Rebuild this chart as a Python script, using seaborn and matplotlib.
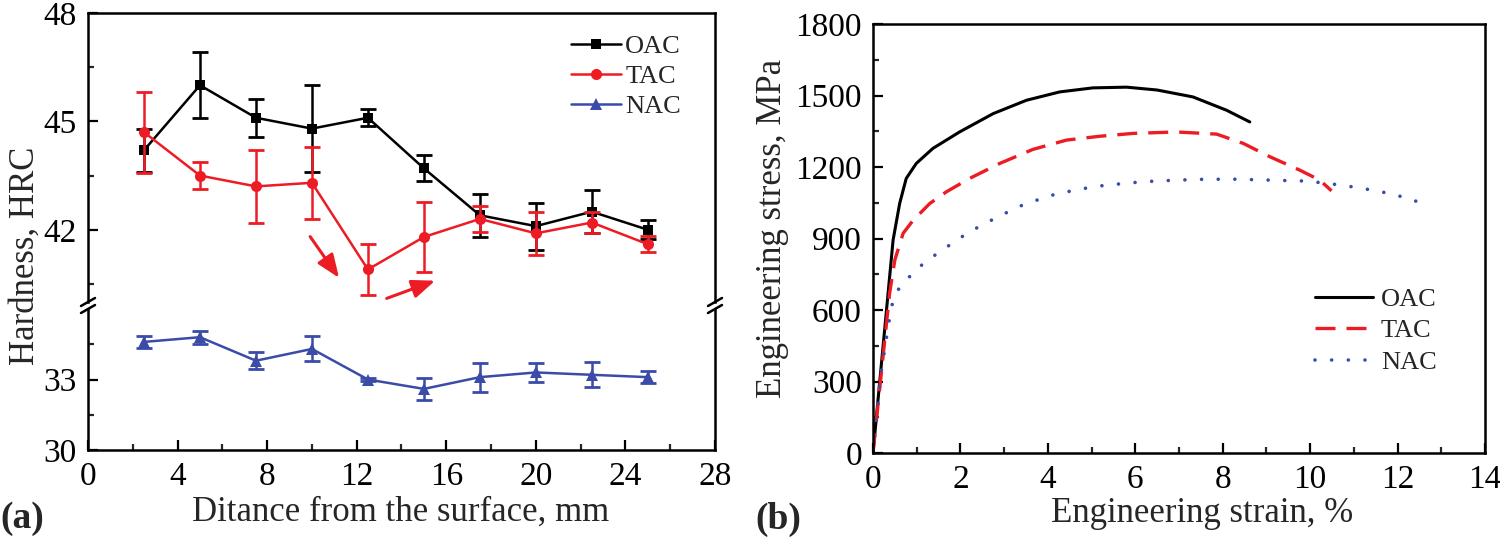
import matplotlib
matplotlib.use('Agg')
import matplotlib.pyplot as plt
from matplotlib.ticker import MultipleLocator, FixedLocator
from matplotlib.lines import Line2D
import seaborn as sns

# (a) hardness vs distance from the surface
depth = [2.5, 5, 7.5, 10, 12.5, 15, 17.5, 20, 22.5, 25]
oac_hrc = [44.2, 46.0, 45.1, 44.8, 45.1, 43.7, 42.4, 42.1, 42.5, 42.0]
oac_err = [0.6, 0.92, 0.52, 1.2, 0.23, 0.36, 0.6, 0.65, 0.6, 0.26]
tac_hrc = [44.7, 43.5, 43.2, 43.3, 40.9, 41.8, 42.3, 41.9, 42.2, 41.6]
tac_err = [1.12, 0.38, 1.0, 1.0, 0.7, 0.98, 0.36, 0.6, 0.3, 0.22]
nac_hrc = [34.6, 34.8, 33.8, 34.3, 33.0, 32.6, 33.1, 33.3, 33.2, 33.1]
nac_err = [0.24, 0.27, 0.37, 0.53, 0.08, 0.46, 0.62, 0.41, 0.53, 0.26]

# (b) engineering stress-strain curves
oac_strain = [0, 0.46, 0.61, 0.7, 0.76, 0.99, 1.37, 1.98, 2.75, 3.51, 4.27, 5.03, 5.8, 6.5, 7.32, 8.09, 8.62]
oac_stress = [0, 894, 1047, 1110, 1152, 1215, 1278, 1347, 1424, 1480, 1515, 1532, 1535, 1523, 1494, 1438, 1389]
tac_strain = [0, 0.38, 0.5, 0.69, 0.92, 1.3, 1.68, 2.21, 2.9, 3.66, 4.43, 5.19, 5.95, 6.94, 7.86, 8.47, 9.08, 9.76, 10.22, 10.49]
tac_stress = [0, 670, 810, 922, 977, 1047, 1096, 1152, 1215, 1274, 1313, 1329, 1341, 1347, 1338, 1299, 1243, 1187, 1145, 1100]
nac_strain = [0, 0.17, 0.42, 0.57, 0.82, 1.14, 1.49, 1.83, 2.17, 2.56, 2.94, 3.32, 3.7, 4.1, 4.52, 4.92,
              5.34, 5.76, 6.16, 6.58, 7.4, 8.24, 9.08, 9.92, 10.72, 11.56, 12.36, 12.66]
nac_stress = [0, 321, 614, 684, 737, 793, 840, 882, 924, 963, 998, 1033, 1058, 1082, 1099, 1113,
              1124, 1131, 1138, 1142, 1148, 1149, 1145, 1141, 1124, 1099, 1064, 1026]

BLACK = '#000000'
RED = '#ed1c24'
BLUE = '#3b4ba8'

sns.set_style('ticks')
plt.rcParams['font.family'] = ['Liberation Serif', 'DejaVu Serif']
plt.rcParams['axes.linewidth'] = 1.8

fig = plt.figure(figsize=(15, 5.41), dpi=100)

W, H = 1500, 541
def box(x0, y0, x1, y1):
    # pixel box (top-left origin) -> figure fraction rect
    return [x0 / W, 1 - y1 / H, (x1 - x0) / W, (y1 - y0) / H]

ax_top = fig.add_axes(box(88, 13, 715, 302))
ax_bot = fig.add_axes(box(88, 309, 715, 450))
ax_b = fig.add_axes(box(873, 24, 1485, 453))

tick_kw = dict(direction='in', labelsize=24, width=1.6, pad=8, colors='black')


def style_axis(ax):
    ax.tick_params(which='major', length=7, **tick_kw)
    ax.tick_params(which='minor', length=4, direction='in', width=1.6)
    ax.tick_params(top=False, right=False, which='both')
    for s in ax.spines.values():
        s.set_linewidth(1.8)
        s.set_color('black')


# ---- panel (a) ----
for ax in (ax_top, ax_bot):
    ax.set_xlim(0, 28)
    ax.xaxis.set_major_locator(MultipleLocator(4))
    ax.xaxis.set_minor_locator(MultipleLocator(2))
    style_axis(ax)

ax_top.set_ylim(40, 48)
ax_top.yaxis.set_major_locator(FixedLocator([42, 45, 48]))
ax_top.yaxis.set_minor_locator(FixedLocator([40.5, 43.5, 46.5]))
ax_top.spines['bottom'].set_visible(False)
ax_top.tick_params(axis='x', which='both', bottom=False, labelbottom=False)

ax_bot.set_ylim(30, 36)
ax_bot.yaxis.set_major_locator(FixedLocator([30, 33]))
ax_bot.yaxis.set_minor_locator(FixedLocator([31.5, 34.5]))
ax_bot.spines['top'].set_visible(False)

series = [
    (ax_top, oac_hrc, oac_err, BLACK, 's', 7),
    (ax_top, tac_hrc, tac_err, RED, 'o', 8),
    (ax_bot, nac_hrc, nac_err, BLUE, '^', 8),
]
for ax, vals, err, col, mk, ms in series:
    sns.lineplot(x=depth, y=vals, ax=ax, color=col, linewidth=1.8, marker=mk,
                 markersize=ms, markeredgewidth=0, sort=False)
    ax.errorbar(depth, vals, yerr=err, fmt='none', ecolor=col, elinewidth=1.8,
                capsize=5.5, capthick=2.0)

ax_top.set_xlabel('')
ax_bot.set_xlabel('')

# red trend arrows
arrow_kw = dict(arrowstyle='-|>,head_length=1.0,head_width=0.4', color=RED, lw=2.2,
                shrinkA=0, shrinkB=0, mutation_scale=14)
ax_top.annotate('', xy=(11.21, 40.67), xytext=(9.92, 41.81), arrowprops=arrow_kw,
                annotation_clip=False)
ax_top.annotate('', xy=(15.5, 40.59), xytext=(13.34, 40.1), arrowprops=arrow_kw,
                annotation_clip=False)

# axis break marks
for xp in (88, 715):
    for yp in (306, 313):
        fig.add_artist(Line2D([(xp - 7) / W, (xp + 7) / W],
                              [1 - yp / H, 1 - (yp - 8) / H],
                              color='black', lw=1.8, transform=fig.transFigure))

handles_a = [
    Line2D([], [], color=BLACK, lw=1.8, marker='s', markersize=7, markeredgewidth=0),
    Line2D([], [], color=RED, lw=1.8, marker='o', markersize=8, markeredgewidth=0),
    Line2D([], [], color=BLUE, lw=1.8, marker='^', markersize=8, markeredgewidth=0),
]
ax_top.legend(handles_a, ['OAC', 'TAC', 'NAC'], loc='upper right',
              bbox_to_anchor=(0.975, 0.99), frameon=False, fontsize=19,
              handlelength=1.9, handletextpad=0.15, labelspacing=0.25, borderpad=0.2)

# ---- panel (b) ----
sns.lineplot(x=oac_strain, y=oac_stress, ax=ax_b, color=BLACK, linewidth=2.2,
             sort=False, label='OAC')
sns.lineplot(x=tac_strain, y=tac_stress, ax=ax_b, color=RED, linewidth=2.4,
             sort=False, label='TAC', dashes=(6, 3.3))
sns.lineplot(x=nac_strain, y=nac_stress, ax=ax_b, color=BLUE, linewidth=2.6,
             sort=False, label='NAC')
nac_line = ax_b.get_lines()[2]
nac_line.set_linestyle((0, (0.01, 4.6)))
nac_line.set_dash_capstyle('round')

ax_b.set_xlim(0, 14)
ax_b.set_ylim(0, 1800)
ax_b.xaxis.set_major_locator(MultipleLocator(2))
ax_b.xaxis.set_minor_locator(MultipleLocator(1))
ax_b.yaxis.set_major_locator(MultipleLocator(300))
ax_b.yaxis.set_minor_locator(MultipleLocator(150))
style_axis(ax_b)
ax_b.set_xlabel('')
ax_b.set_ylabel('')

leg = ax_b.legend(loc='center right', bbox_to_anchor=(0.96, 0.285), frameon=False,
                  fontsize=19, handlelength=2.2, handletextpad=0.3, labelspacing=0.3)
leg.get_lines()[2].set_linestyle((0, (0.01, 4.6)))
leg.get_lines()[2].set_dash_capstyle('round')

# ---- labels ----
fig.text(25 / W, 1 - 256 / H, 'Hardness, HRC', rotation=90, ha='center', va='center', fontsize=25)
fig.text(401 / W, 1 - 512 / H, 'Ditance from the surface, mm', ha='center', va='center', fontsize=25)
fig.text(772 / W, 1 - 228 / H, 'Engineering stress, MPa', rotation=90, ha='center', va='center', fontsize=25)
fig.text(1202 / W, 1 - 514 / H, 'Engineering strain, %', ha='center', va='center', fontsize=25)
fig.text(0.0, 1 - 519 / H, '(a)', ha='left', va='center', fontsize=27, fontweight='bold')
fig.text(755 / W, 1 - 519 / H, '(b)', ha='left', va='center', fontsize=27, fontweight='bold')

fig.savefig('out.png', dpi=100)
